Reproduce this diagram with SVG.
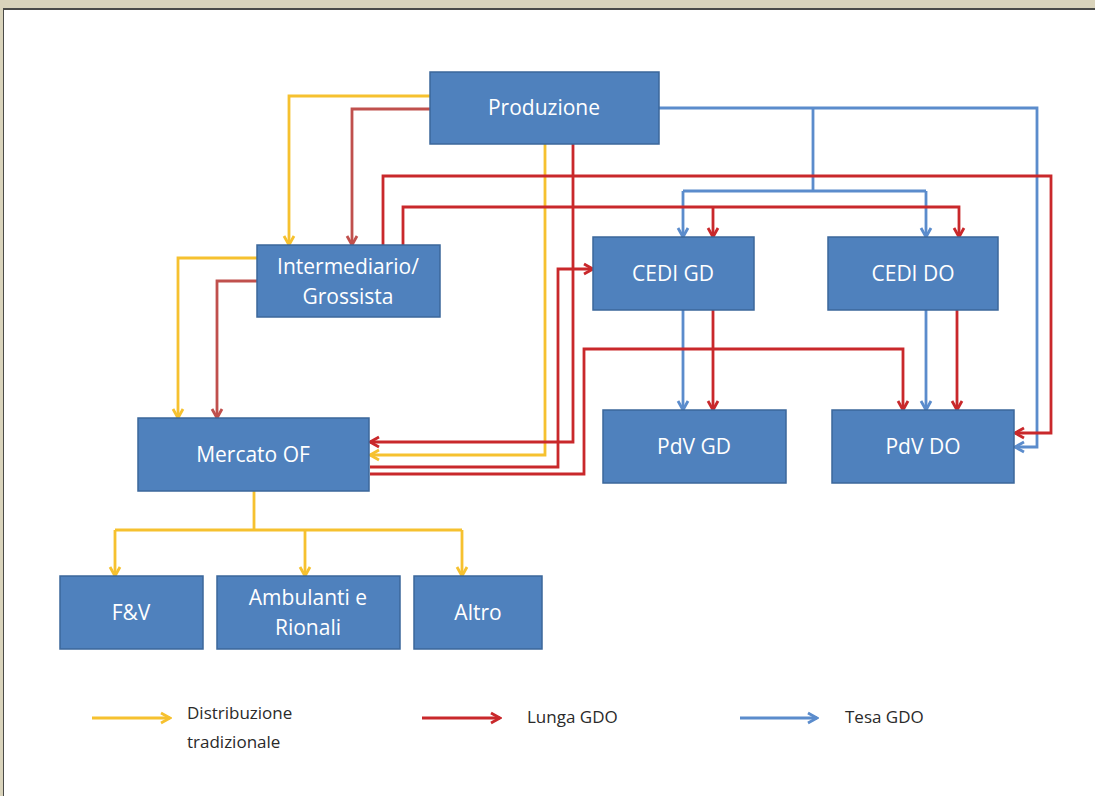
<svg xmlns="http://www.w3.org/2000/svg" width="1095" height="796" viewBox="0 0 1095 796">
<style>
.node rect{fill:#4f81bd;stroke:#3b679b;stroke-width:1.5}
.node text{font-family:"Open Sans","Liberation Sans",sans-serif;font-size:21px;fill:#ffffff;text-anchor:middle}
.c{fill:none;stroke-width:2.8;stroke-linejoin:miter}
.y{stroke:#f6c12f}
.r{stroke:#c9282b}
.b{stroke:#c0504d}
.l{stroke:#5b8ccc}
.leg{font-family:"Open Sans","Liberation Sans",sans-serif;font-size:17px;fill:#2a2a2a}
</style>
<defs>
<marker id="ay" viewBox="0 0 14 14" refX="12" refY="7" markerWidth="14" markerHeight="14" markerUnits="userSpaceOnUse" orient="auto"><path d="M3,2 L12,7 L3,12" fill="none" stroke="#f6c12f" stroke-width="2.8"/></marker>
<marker id="ar" viewBox="0 0 14 14" refX="12" refY="7" markerWidth="14" markerHeight="14" markerUnits="userSpaceOnUse" orient="auto"><path d="M3,2 L12,7 L3,12" fill="none" stroke="#c9282b" stroke-width="2.8"/></marker>
<marker id="ab" viewBox="0 0 14 14" refX="12" refY="7" markerWidth="14" markerHeight="14" markerUnits="userSpaceOnUse" orient="auto"><path d="M3,2 L12,7 L3,12" fill="none" stroke="#c0504d" stroke-width="2.8"/></marker>
<marker id="al" viewBox="0 0 14 14" refX="12" refY="7" markerWidth="14" markerHeight="14" markerUnits="userSpaceOnUse" orient="auto"><path d="M3,2 L12,7 L3,12" fill="none" stroke="#5b8ccc" stroke-width="2.8"/></marker>
</defs>
<rect x="0" y="0" width="1095" height="796" fill="#d9d3bb"/>
<rect x="3" y="9" width="1092" height="787" fill="#ffffff"/>
<line x1="3" y1="9" x2="1095" y2="9" stroke="#4a4a48" stroke-width="2"/>
<line x1="3.5" y1="9" x2="3.5" y2="796" stroke="#4a4a48" stroke-width="1"/>

<g id="connectors">
<path class="c l" d="M659,108 H1037 V447 H1015" marker-end="url(#al)"/>
<path class="c l" d="M813,108 V191"/>
<path class="c l" d="M683,191 H926"/>
<path class="c l" d="M683,191 V237" marker-end="url(#al)"/>
<path class="c l" d="M926,191 V237" marker-end="url(#al)"/>
<path class="c l" d="M683,310 V410" marker-end="url(#al)"/>
<path class="c l" d="M926,310 V410" marker-end="url(#al)"/>

<path class="c y" d="M430,96 H289 V245" marker-end="url(#ay)"/>
<path class="c y" d="M257,258 H178 V418" marker-end="url(#ay)"/>
<path class="c y" d="M545,144 V455 H370" marker-end="url(#ay)"/>
<path class="c y" d="M254,491 V530"/>
<path class="c y" d="M115,530 H462"/>
<path class="c y" d="M115,530 V576" marker-end="url(#ay)"/>
<path class="c y" d="M305,530 V576" marker-end="url(#ay)"/>
<path class="c y" d="M462,530 V576" marker-end="url(#ay)"/>

<path class="c b" d="M430,109 H352 V245" marker-end="url(#ab)"/>
<path class="c b" d="M257,281 H217 V418" marker-end="url(#ab)"/>

<path class="c r" d="M573,144 V442 H370" marker-end="url(#ar)"/>
<path class="c r" d="M370,467 H558 V269 H593" marker-end="url(#ar)"/>
<path class="c r" d="M370,474 H584 V349 H903 V410" marker-end="url(#ar)"/>
<path class="c r" d="M383,245 V176 H1051 V433 H1015" marker-end="url(#ar)"/>
<path class="c r" d="M403,245 V207 H959 V237" marker-end="url(#ar)"/>
<path class="c r" d="M713,207 V237" marker-end="url(#ar)"/>
<path class="c r" d="M713,310 V410" marker-end="url(#ar)"/>
<path class="c r" d="M957,310 V410" marker-end="url(#ar)"/>
</g>

<g id="produzione" class="node"><rect x="430" y="72" width="229" height="72"/><text x="544" y="115">Produzione</text></g>
<g id="intermediario" class="node"><rect x="257" y="245" width="183" height="72"/><text x="348" y="274">Intermediario/</text><text x="348" y="304">Grossista</text></g>
<g id="cedi-gd" class="node"><rect x="593" y="237" width="161" height="73"/><text x="673" y="281">CEDI GD</text></g>
<g id="cedi-do" class="node"><rect x="828" y="237" width="170" height="73"/><text x="913" y="281">CEDI DO</text></g>
<g id="mercato" class="node"><rect x="138" y="418" width="231" height="73"/><text x="253" y="462">Mercato OF</text></g>
<g id="pdv-gd" class="node"><rect x="603" y="410" width="183" height="73"/><text x="694" y="454">PdV GD</text></g>
<g id="pdv-do" class="node"><rect x="832" y="410" width="182" height="73"/><text x="923" y="454">PdV DO</text></g>
<g id="fv" class="node"><rect x="60" y="576" width="143" height="73"/><text x="131" y="620">F&amp;V</text></g>
<g id="ambulanti" class="node"><rect x="217" y="576" width="183" height="73"/><text x="308" y="605">Ambulanti e</text><text x="308" y="635">Rionali</text></g>
<g id="altro" class="node"><rect x="414" y="576" width="128" height="73"/><text x="478" y="620">Altro</text></g>

<g id="legend">
<path class="c y" d="M92,718 H170" marker-end="url(#ay)"/>
<text class="leg" x="187" y="719">Distribuzione</text>
<text class="leg" x="187" y="748">tradizionale</text>
<path class="c r" d="M422,718 H500" marker-end="url(#ar)"/>
<text class="leg" x="527" y="723">Lunga GDO</text>
<path class="c l" d="M740,718 H817" marker-end="url(#al)"/>
<text class="leg" x="845" y="723">Tesa GDO</text>
</g>
</svg>
